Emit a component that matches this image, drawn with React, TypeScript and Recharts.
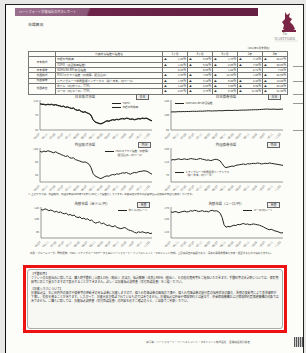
import React from "react";
import { LineChart, Line, XAxis, YAxis } from "recharts";

// 2006/07 .. 2011/04, monthly
const months = [
  "06/07", "06/08", "06/09", "06/10", "06/11", "06/12",
  "07/01", "07/02", "07/03", "07/04", "07/05", "07/06", "07/07", "07/08", "07/09", "07/10", "07/11", "07/12",
  "08/01", "08/02", "08/03", "08/04", "08/05", "08/06", "08/07", "08/08", "08/09", "08/10", "08/11", "08/12",
  "09/01", "09/02", "09/03", "09/04", "09/05", "09/06", "09/07", "09/08", "09/09", "09/10", "09/11", "09/12",
  "10/01", "10/02", "10/03", "10/04", "10/05", "10/06", "10/07", "10/08", "10/09", "10/10", "10/11", "10/12",
  "11/01", "11/02", "11/03", "11/04",
];

const nikkei = [
  100, 98, 99, 97, 99, 98,
  99, 97, 98, 96, 95, 93, 94, 91, 92, 90, 88, 89,
  85, 83, 84, 80, 78, 79, 76, 74, 70, 58, 52, 50,
  48, 47, 49, 52, 55, 54, 56, 58, 57, 59, 58, 60,
  61, 60, 62, 61, 59, 60, 58, 59, 61, 60, 62, 61,
  62, 60, 57, 55,
];
const topix = [
  100, 99, 98, 97, 98, 97,
  98, 96, 97, 95, 94, 92, 93, 90, 91, 89, 87, 88,
  84, 82, 83, 79, 77, 78, 75, 73, 68, 57, 51, 49,
  47, 46, 48, 51, 54, 53, 55, 57, 56, 58, 57, 59,
  60, 59, 61, 60, 58, 59, 57, 58, 60, 59, 61, 60,
  61, 59, 56, 54,
];
const bpi = [
  104.0, 104.2, 104.1, 104.3, 104.5, 104.4,
  104.6, 104.5, 104.7, 104.6, 104.8, 104.9, 105.0, 104.8, 105.1, 105.2, 105.0, 105.3,
  105.4, 105.6, 105.5, 105.3, 105.6, 105.5, 105.7, 105.8, 105.6, 105.9, 106.0, 106.2,
  106.1, 106.0, 106.2, 106.3, 106.1, 106.4, 106.5, 106.6, 106.5, 106.7, 106.8, 106.9,
  107.0, 107.1, 107.0, 107.3, 107.4, 107.6, 107.8, 107.9, 107.7, 107.6, 107.8, 107.7,
  107.5, 107.6, 107.8, 107.9,
];
const msci = [
  110, 108, 111, 109, 112, 110,
  108, 106, 109, 105, 103, 100, 98, 95, 97, 92, 90, 91,
  86, 84, 82, 80, 78, 79, 76, 72, 62, 45, 38, 35,
  32, 30, 33, 36, 38, 37, 40, 42, 41, 44, 43, 45,
  47, 46, 48, 45, 43, 46, 48, 47, 50, 51, 52, 53,
  52, 50, 46, 43,
];
const wgbi = [
  114, 116, 115, 117, 118, 116,
  117, 118, 116, 117, 119, 118, 117, 116, 118, 119, 117, 116,
  114, 115, 113, 114, 116, 117, 115, 112, 104, 96, 92, 94,
  95, 97, 96, 99, 100, 101, 102, 103, 101, 104, 103, 104,
  105, 104, 106, 105, 103, 104, 105, 104, 106, 105, 104, 103,
  102, 101, 100, 99,
];
const usdjpy = [
  121, 120, 122, 121, 119, 120,
  119, 117, 118, 116, 117, 115, 114, 115, 112, 113, 111, 112,
  109, 108, 109, 106, 107, 105, 106, 103, 104, 101, 99, 100,
  101, 98, 99, 97, 95, 96, 94, 93, 95, 92, 91, 90,
  91, 92, 90, 88, 87, 86, 84, 83, 85, 84, 85, 84,
  83, 84, 82, 83,
];
const eurjpy = [
  163, 162, 164, 163, 161, 163,
  164, 165, 163, 164, 166, 165, 167, 166, 164, 165, 166, 164,
  165, 163, 166, 167, 165, 166, 164, 160, 150, 132, 126, 128,
  127, 129, 131, 130, 133, 132, 134, 135, 133, 134, 132, 133,
  134, 133, 132, 131, 129, 127, 124, 122, 120, 121, 119, 117,
  116, 114, 112, 113,
];

const periods = ["1ヶ月", "3ヶ月", "6ヶ月", "1年", "3年"];
const assetClasses = ["日本株式", "日本債券", "外国株式", "外国債券", "外国為替"];
const classSpans = [2, 1, 1, 1, 2];
const indexNames = [
  "日経平均株価",
  "TOPIX（東証株価指数）",
  "NOMURA-BPI 総合指数",
  "MSCIコクサイ指数（円換算、配当込み）",
  "シティグループ世界国債インデックス（除く日本、円ベース）",
  "米ドル（円/米ドル、TTM）",
  "ユーロ（円/ユーロ、TTM）",
];
const returns = [
  [-1.26, -5.68, -1.78, -7.15, -52.27],
  [-1.82, -6.02, -2.05, -7.9, -50.85],
  [0.38, 0.95, 1.22, 2.71, 7.85],
  [-3.46, -7.8, -12.3, 1.05, -42.6],
  [-1.95, -3.1, -5.8, -2.4, -14.2],
  [-1.22, -2.85, -3.9, -8.6, -29.2],
  [-2.07, -4.76, -8.3, -11.9, -31.4],
];

const rows = months.map((m, i) => ({
  m,
  nikkei: nikkei[i],
  topix: topix[i],
  bpi: bpi[i],
  msci: msci[i],
  wgbi: wgbi[i],
  usdjpy: usdjpy[i],
  eurjpy: eurjpy[i],
}));

const FONT = "'Noto Sans CJK JP', 'Noto Sans', sans-serif";
const AX = "#555";
const INK = "#222";
const TXT = "#3a3a3a";

function RotTick(props: any) {
  const { x, y, payload } = props;
  return (
    <text
      x={x}
      y={y + 1.5}
      transform={`rotate(-45 ${x} ${y + 1.5})`}
      textAnchor="end"
      fontSize={2.8}
      fill="#555"
      fontFamily={FONT}
    >
      {payload.value}
    </text>
  );
}

function Panel(props: {
  left: number;
  top: number;
  w: number;
  h: number;
  domain: [number, number];
  ticks: number[];
  series: string[];
}) {
  const { left, top, w, h, domain, ticks, series } = props;
  const yW = 11;
  const xH = 9;
  return (
    <div style={{ position: "absolute", left: left - yW, top: top - 1 }}>
      <LineChart
        width={yW + w + 1}
        height={1 + h + xH}
        data={rows}
        margin={{ top: 1, right: 1, left: 0, bottom: 0 }}
      >
        <XAxis
          dataKey="m"
          interval={3}
          height={xH}
          tick={<RotTick />}
          tickLine={false}
          tickSize={1}
          stroke={AX}
          strokeWidth={0.6}
        />
        <XAxis
          xAxisId="top"
          dataKey="m"
          orientation="top"
          height={0}
          tick={false}
          tickLine={false}
          stroke={AX}
          strokeWidth={0.6}
        />
        <YAxis
          domain={domain}
          ticks={ticks}
          width={yW}
          tickLine={false}
          tickSize={1}
          tickMargin={1}
          tick={{ fontSize: 2.8, fill: "#555", fontFamily: FONT }}
          stroke={AX}
          strokeWidth={0.6}
        />
        <YAxis
          yAxisId="right"
          orientation="right"
          domain={domain}
          width={0}
          tick={false}
          tickLine={false}
          stroke={AX}
          strokeWidth={0.6}
        />
        {series.map((k) => (
          <Line
            key={k}
            dataKey={k}
            type="linear"
            stroke={INK}
            strokeWidth={1}
            dot={false}
            isAnimationActive={false}
          />
        ))}
      </LineChart>
    </div>
  );
}

function Title(props: { cx: number; top: number; text: string; tag: string; tagLeft: number }) {
  return (
    <>
      <div
        style={{
          position: "absolute",
          left: props.cx - 30,
          width: 60,
          top: props.top,
          textAlign: "center",
          fontSize: 3.4,
          lineHeight: "4px",
          color: TXT,
        }}
      >
        {props.text}
      </div>
      <div
        style={{
          position: "absolute",
          left: props.tagLeft,
          top: props.top - 0.5,
          width: 11,
          height: 4,
          border: "0.6px solid #666",
          fontSize: 3,
          lineHeight: "4px",
          textAlign: "center",
          color: TXT,
          background: "#eee",
        }}
      >
        {props.tag}
      </div>
    </>
  );
}

function Legend(props: { left: number; top: number; items: { text: string; line: boolean }[] }) {
  return (
    <div style={{ position: "absolute", left: props.left, top: props.top, fontSize: 2.6, lineHeight: "3.6px", color: "#444" }}>
      {props.items.map((it, i) => (
        <div key={i} style={{ display: "flex", alignItems: "center", whiteSpace: "nowrap" }}>
          <span
            style={{
              display: "inline-block",
              width: 9,
              height: 0,
              borderTop: it.line ? `0.8px solid ${INK}` : "none",
              marginRight: 1.5,
            }}
          />
          {it.text}
        </div>
      ))}
    </div>
  );
}

function Table() {
  const RH = 5.35;
  const cell: React.CSSProperties = {
    borderRight: "0.5px solid #777",
    borderBottom: "0.5px solid #777",
    padding: "0 1px",
    fontSize: 2.8,
    lineHeight: `${RH - 0.5}px`,
    whiteSpace: "nowrap",
    overflow: "hidden",
    boxSizing: "border-box",
  };
  const cells: React.ReactNode[] = [];
  cells.push(<div key="h0" style={{ ...cell, gridRow: 1, gridColumn: 1 }} />);
  cells.push(
    <div key="h1" style={{ ...cell, gridRow: 1, gridColumn: 2, textAlign: "center" }}>代表的な指数と指数名</div>
  );
  periods.forEach((p, j) =>
    cells.push(
      <div key={"hp" + j} style={{ ...cell, gridRow: 1, gridColumn: 3 + j, textAlign: "center" }}>{p}</div>
    )
  );
  let r0 = 0;
  assetClasses.forEach((c, ci) => {
    cells.push(
      <div
        key={"c" + ci}
        style={{
          ...cell,
          gridRow: `${r0 + 2} / span ${classSpans[ci]}`,
          gridColumn: 1,
          textAlign: "center",
          display: "flex",
          alignItems: "center",
          justifyContent: "center",
        }}
      >
        {c}
      </div>
    );
    r0 += classSpans[ci];
  });
  indexNames.forEach((name, r) => {
    cells.push(<div key={"n" + r} style={{ ...cell, gridRow: r + 2, gridColumn: 2 }}>{name}</div>);
    returns[r].forEach((v, j) =>
      cells.push(
        <div
          key={"v" + r + j}
          style={{ ...cell, gridRow: r + 2, gridColumn: 3 + j, display: "flex", justifyContent: "space-between" }}
        >
          <span>{v < 0 ? "▲" : ""}</span>
          <span>{Math.abs(v).toFixed(2)}%</span>
        </div>
      )
    );
  });
  return (
    <div
      style={{
        position: "absolute",
        left: 28,
        top: 51,
        display: "grid",
        gridTemplateColumns: "27px 107px repeat(5, 25px)",
        gridTemplateRows: `repeat(8, ${RH}px)`,
        borderTop: "0.5px solid #777",
        borderLeft: "0.5px solid #777",
        color: TXT,
      }}
    >
      {cells}
    </div>
  );
}

const note1 =
  "※ 上記グラフは、外国株式、外国債券は2006年7月末を100として指数化しています。為替は各月末の対顧客電信売買相場の仲値を使用しています。";
const note2 =
  "出所：ブルームバーグ、野村證券、MSCI、シティグループのデータを基にハートフォード・インベストメント・マネジメント作成。上記は過去の実績であり、将来の運用成果等を示唆・保証するものではありません。";
const feeText =
  "ファンドのお申込みに際しては、購入時手数料（上限3.15%（税込））のほか、信託報酬（年率1.995%（税込））、その他の費用等をご負担いただきます。手数料等の合計額については、保有期間等に応じて異なりますので表示することができません。詳しくは投資信託説明書（交付目論見書）をご覧ください。";
const riskText =
  "投資信託は、主に国内外の株式や債券等の値動きのある証券に投資しますので、組入れ有価証券の価格の下落や、組入れ有価証券の発行者の信用状況の悪化、為替の変動等により基準価額が下落し、損失を被ることがあります。したがって、投資元本が保証されているものではありません。投資信託は預金や保険契約とは異なり、預金保険機構および保険契約者保護機構の対象ではありません。ご購入に際しては、投資信託説明書（交付目論見書）の内容を必ずご確認のうえ、ご自身でご判断ください。";

export default function App() {
  return (
    <div
      style={{
        position: "absolute",
        left: 0,
        top: 0,
        width: 306,
        height: 353,
        overflow: "hidden",
        background: "#e8e8e6",
        fontFamily: FONT,
      }}
    >
      {/* page */}
      <div
        style={{
          position: "absolute",
          left: 5,
          top: 4,
          width: 297,
          height: 352,
          background: "#fcfcf8",
          borderLeft: "1.6px solid #111",
          borderTop: "1.2px solid #222",
          borderRight: "1.6px solid #222",
        }}
      />
      {/* header ribbon */}
      <div
        style={{
          position: "absolute",
          left: 15,
          top: 8,
          width: 243,
          height: 8,
          background: "linear-gradient(110deg, #9a6f8d 0%, #8a5879 30%, #6c2449 31%, #651f43 100%)",
          color: "#f4eaf0",
          fontSize: 3.2,
          lineHeight: "8px",
          paddingLeft: 4,
          boxSizing: "border-box",
        }}
      >
        ハートフォード投資信託の月次レポート
      </div>
      <div style={{ position: "absolute", left: 28, top: 22, fontSize: 3.8, color: TXT }}>市場概況</div>

      {/* logo */}
      <svg style={{ position: "absolute", left: 268, top: 10 }} width={34} height={32}>
        <path d="M17 2 L19 5 L22 3 L21 7 L24 9 L22 12 L25 15 L27 19 L24 21 L18 21 L15 19 L16 15 L14 12 L17 9 Z" fill="#7a2545" />
        <rect x={14} y={20} width={14} height={2} fill="#7a2545" />
        <text x={17} y={25} fontSize={3.2} fill="#777" fontFamily="'Liberation Serif', serif" textAnchor="middle">The</text>
        <text x={17} y={29.5} fontSize={3.4} fill="#777" fontFamily="'Liberation Serif', serif" textAnchor="middle" letterSpacing={0.3}>HARTFORD</text>
        <line x1={7} y1={31} x2={30} y2={31} stroke="#bbb" strokeWidth={0.4} />
      </svg>

      <div style={{ position: "absolute", left: 246, top: 45.5, fontSize: 2.6, color: "#444" }}>（2011年4月末現在）</div>
      <Table />

      {/* strokes of the neighbouring page */}
      {[66, 81, 94, 103, 130].map((y) => (
        <div key={y} style={{ position: "absolute", left: 293, top: y, width: 10, height: 0.8, background: "#9a9a9a" }} />
      ))}

      <Title cx={85} top={94.5} text="日本株式市場" tag="日本" tagLeft={136} />
      <Title cx={226} top={94.5} text="日本債券市場" tag="日本" tagLeft={268} />
      <Panel left={40} top={100} w={112} h={30} domain={[30, 110]} ticks={[30, 50, 70, 90, 110]} series={["topix", "nikkei"]} />
      <Panel left={171} top={100} w={112} h={30} domain={[80, 120]} ticks={[80, 90, 100, 110, 120]} series={["bpi"]} />
      <Legend left={112} top={102} items={[{ text: "TOPIX", line: true }, { text: "日経平均株価", line: true }]} />
      <Legend left={175} top={102} items={[{ text: "NOMURA-BPI 総合指数", line: true }]} />

      <Title cx={85} top={142.5} text="外国株式市場" tag="外国" tagLeft={138} />
      <Title cx={226} top={142.5} text="外国債券市場" tag="外国" tagLeft={267} />
      <Panel left={40} top={148} w={112} h={34} domain={[20, 120]} ticks={[20, 40, 60, 80, 100, 120]} series={["msci"]} />
      <Panel left={171} top={148} w={112} h={34} domain={[50, 150]} ticks={[50, 70, 90, 110, 130, 150]} series={["wgbi"]} />
      <Legend left={105} top={150} items={[{ text: "MSCIコクサイ指数（円換算）", line: true }, { text: "（配当込み、円ベース）", line: false }]} />
      <Legend left={175} top={170.5} items={[{ text: "シティグループ世界国債インデックス", line: true }, { text: "（除く日本、円ベース）", line: false }]} />

      <div style={{ position: "absolute", left: 28, top: 193, width: 252, fontSize: 2.5, lineHeight: "3px", color: "#444", whiteSpace: "nowrap", overflow: "hidden" }}>
        {note1}
      </div>

      <Title cx={92} top={202} text="為替市場（米ドル/円）" tag="為替" tagLeft={137} />
      <Title cx={226} top={202} text="為替市場（ユーロ/円）" tag="為替" tagLeft={267} />
      <Panel left={41} top={207} w={111} h={31} domain={[75, 125]} ticks={[75, 85, 95, 105, 115, 125]} series={["usdjpy"]} />
      <Panel left={171} top={207} w={112} h={31} domain={[100, 175]} ticks={[100, 115, 130, 145, 160, 175]} series={["eurjpy"]} />
      <Legend left={118} top={209} items={[{ text: "米ドル/円レート", line: true }]} />
      <Legend left={243} top={209} items={[{ text: "ユーロ/円レート", line: true }]} />

      <div style={{ position: "absolute", left: 30, top: 252, width: 252, fontSize: 2.5, lineHeight: "3.3px", color: "#444" }}>
        {note2}
      </div>

      {/* disclosure box */}
      <div
        style={{
          position: "absolute",
          left: 23,
          top: 265,
          width: 264,
          height: 68,
          border: "3.5px solid #ee1111",
          boxSizing: "border-box",
          background: "#fcfcf8",
        }}
      >
        <div
          style={{
            position: "absolute",
            left: 1,
            top: 1,
            right: 1,
            bottom: 1,
            border: "0.6px solid #aaa",
            borderRadius: 3,
            padding: "2px 3px",
            fontSize: 2.9,
            lineHeight: "4.1px",
            color: "#333",
            background: "#f7f7f3",
          }}
        >
          <div>【手数料等】</div>
          <div>{feeText}</div>
          <div style={{ marginTop: 2.5 }}>【投資リスクについて】</div>
          <div>{riskText}</div>
        </div>
      </div>

      <div style={{ position: "absolute", left: 146, top: 340, fontSize: 2.6, color: "#555", whiteSpace: "nowrap" }}>
        商号等：ハートフォード・インベストメント・マネジメント株式会社　金融商品取引業者
      </div>
      <div style={{ position: "absolute", left: 294, top: 337, width: 9, height: 10, background: "repeating-linear-gradient(90deg, #555 0 1px, #ccc 1px 2px)" }} />
    </div>
  );
}
